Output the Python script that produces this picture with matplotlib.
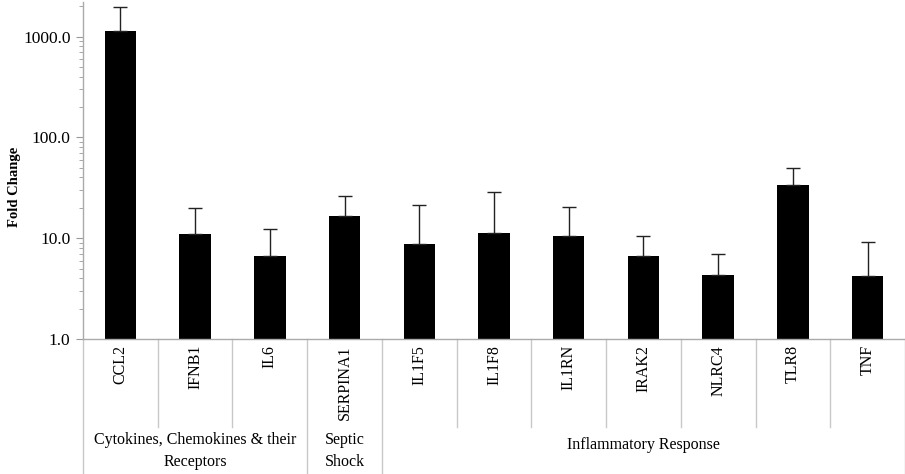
import numpy as np
import matplotlib.pyplot as plt
import matplotlib.transforms as mtransforms
from matplotlib.ticker import FuncFormatter, LogLocator

plt.rcParams['font.family'] = ['Liberation Serif', 'DejaVu Serif']

# Data
genes = ['CCL2', 'IFNB1', 'IL6', 'SERPINA1', 'IL1F5', 'IL1F8', 'IL1RN',
         'IRAK2', 'NLRC4', 'TLR8', 'TNF']
fold_change = [1143, 11.0, 6.7, 16.6, 8.8, 11.3, 10.5, 6.7, 4.36, 33.4, 4.26]
err_upper = [817, 8.9, 5.6, 9.4, 12.4, 17.2, 9.8, 3.8, 2.64, 16.6, 4.94]
groups = ['Cytokines, Chemokines & their\nReceptors', 'Septic\nShock',
          'Inflammatory Response']
group_sizes = [3, 1, 7]

fig = plt.figure(figsize=(9.05, 4.74), dpi=100)
ax = fig.add_axes([83 / 905, (474 - 339) / 474, 1 - 83 / 905, 337 / 474])

x = np.arange(len(genes))
ax.bar(x, fold_change, width=0.42, color='black', zorder=2)
ax.errorbar(x, fold_change, yerr=[np.zeros(len(genes)), err_upper],
            fmt='none', ecolor='#222222', elinewidth=1, capsize=5,
            capthick=1, zorder=3)

ax.set_yscale('log')
ax.set_ylim(1, 2200)
ax.set_xlim(-0.5, len(genes) - 0.5)
ax.yaxis.set_major_locator(LogLocator(base=10))
ax.yaxis.set_minor_locator(LogLocator(base=10, subs=np.arange(2, 10)))
ax.yaxis.set_major_formatter(FuncFormatter(lambda v, p: f'{v:.1f}'))
ax.yaxis.set_minor_formatter(FuncFormatter(lambda v, p: ''))
ax.tick_params(axis='y', which='major', length=5, color='#999999',
               labelsize=12.5, pad=4)
ax.tick_params(axis='y', which='minor', length=3, color='#999999')
ax.set_xticks([])

for s in ['top', 'right']:
    ax.spines[s].set_visible(False)
for s in ['left', 'bottom']:
    ax.spines[s].set_color('#aaaaaa')
    ax.spines[s].set_linewidth(1)

ax.set_ylabel('Fold Change', fontsize=10.5, fontweight='bold')
ax.yaxis.set_label_coords(-62 / 822, 0.45)

# category table below the axis
trans = mtransforms.blended_transform_factory(ax.transData, ax.transAxes)
sep_color = '#c8c8c8'
inner_bottom = -(427 - 339) / 337
outer_bottom = -(474 - 339) / 337

for i, g in enumerate(genes):
    ax.text(i, -0.018, g, rotation=90, ha='center', va='top', fontsize=11.5,
            transform=trans)

group_edges = np.cumsum([0] + group_sizes) - 0.5
for b in np.arange(len(genes) + 1) - 0.5:
    bottom = outer_bottom if b in group_edges else inner_bottom
    ax.plot([b, b], [0, bottom], color=sep_color, lw=1, transform=trans,
            clip_on=False)

for gname, lo, hi in zip(groups, group_edges[:-1], group_edges[1:]):
    ypix = 451 if '\n' in gname else 445
    ax.text((lo + hi) / 2, -(ypix - 339) / 337, gname, ha='center',
            va='center', fontsize=11.5, linespacing=1.45, transform=trans)

plt.savefig('out.png', dpi=100)
